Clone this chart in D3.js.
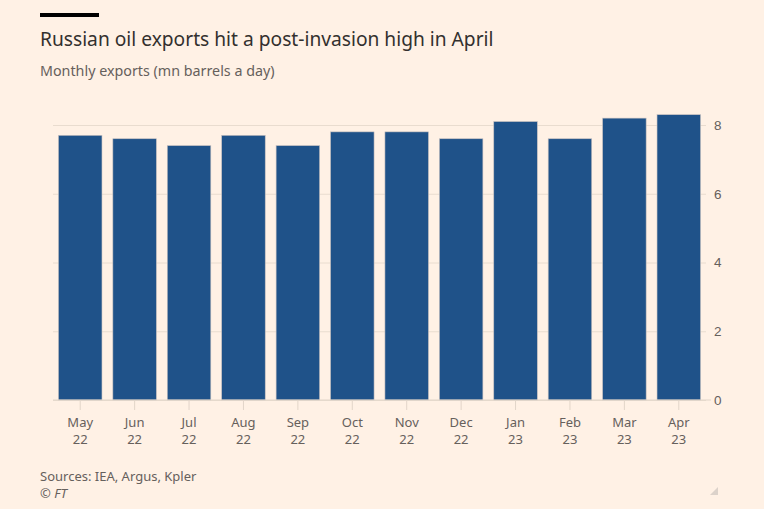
<!DOCTYPE html>
<html>
<head>
<meta charset="utf-8">
<script src="https://cdn.jsdelivr.net/npm/d3@7"></script>
<style>
  body { margin: 0; background: #fff1e5; }
  svg { display: block; font-family: "Noto Sans", Lato, sans-serif; }
</style>
</head>
<body>
<div id="chart"></div>
<script>
// data
var months = ["May", "Jun", "Jul", "Aug", "Sep", "Oct", "Nov", "Dec", "Jan", "Feb", "Mar", "Apr"];
var years = ["22", "22", "22", "22", "22", "22", "22", "22", "23", "23", "23", "23"];
var exports = [7.7, 7.6, 7.4, 7.7, 7.4, 7.8, 7.8, 7.6, 8.1, 7.6, 8.2, 8.3];
var yTicks = [0, 2, 4, 6, 8];

var w = 764;
var h = 509;
var margin = {top: 125, right: 58, bottom: 109, left: 53};

var svg = d3.select("#chart")
            .append("svg")
            .attr("width", w)
            .attr("height", h);

svg.append("rect")
    .attr("width", w)
    .attr("height", h)
    .attr("fill", "#fff1e5");

var x = d3.scaleBand()
            .domain(d3.range(months.length))
            .range([margin.left, w - margin.right])
            .paddingInner(0.2)
            .paddingOuter(0.1);

var y = d3.scaleLinear()
            .domain([0, 8])
            .range([h - margin.bottom, margin.top]);

// header
svg.append("rect")
    .attr("x", 40).attr("y", 13)
    .attr("width", 59).attr("height", 4)
    .attr("fill", "#000");

svg.append("text")
    .attr("x", 40).attr("y", 46)
    .attr("font-size", 19.2)
    .attr("fill", "#33302e")
    .text("Russian oil exports hit a post-invasion high in April");

svg.append("text")
    .attr("x", 40).attr("y", 76)
    .attr("font-size", 14.3)
    .attr("fill", "#66605c")
    .text("Monthly exports (mn barrels a day)");

// gridlines + y labels
var yAxis = svg.append("g")
    .attr("transform", "translate(" + (w - margin.right) + ",0)")
    .call(d3.axisRight(y).tickValues(yTicks).tickSize(-(w - margin.right - margin.left)).tickPadding(8));
yAxis.select(".domain").remove();
yAxis.selectAll(".tick line")
    .attr("stroke", "#e9dccf");
yAxis.selectAll(".tick text")
    .attr("font-size", 13.5)
    .attr("fill", "#66605c");

// bars
svg.selectAll(".bar")
    .data(exports)
    .enter()
    .append("rect")
    .attr("class", "bar")
    .attr("x", function(d, i) { return x(i); })
    .attr("y", function(d) { return y(d); })
    .attr("width", x.bandwidth())
    .attr("height", function(d) { return y(0) - y(d); })
    .attr("fill", "#1f5289")
    .attr("stroke", "#c9c2c0")
    .attr("stroke-width", 0.6);

// baseline
svg.append("line")
    .attr("x1", margin.left).attr("x2", w - margin.right + 5)
    .attr("y1", y(0)).attr("y2", y(0))
    .attr("stroke", "#e2d5c9")
    .attr("stroke-width", 1.2);

// x axis
var xAxis = svg.append("g")
    .attr("transform", "translate(0," + y(0) + ")")
    .call(d3.axisBottom(x).tickSize(10).tickFormat(""));
xAxis.select(".domain").remove();
xAxis.selectAll(".tick line")
    .attr("stroke", "#e2d5c9");

svg.selectAll(".xmon")
    .data(months)
    .enter()
    .append("text")
    .attr("class", "xmon")
    .attr("text-anchor", "middle")
    .attr("font-size", 13)
    .attr("fill", "#66605c")
    .attr("x", function(d, i) { return x(i) + x.bandwidth() / 2; })
    .attr("y", 427)
    .text(function(d) { return d; });

svg.selectAll(".xyr")
    .data(years)
    .enter()
    .append("text")
    .attr("class", "xyr")
    .attr("text-anchor", "middle")
    .attr("font-size", 13)
    .attr("fill", "#66605c")
    .attr("x", function(d, i) { return x(i) + x.bandwidth() / 2; })
    .attr("y", 444)
    .text(function(d) { return d; });

// footer
svg.append("text")
    .attr("x", 40).attr("y", 481)
    .attr("font-size", 13)
    .attr("fill", "#66605c")
    .text("Sources: IEA, Argus, Kpler");

svg.append("text")
    .attr("x", 40).attr("y", 498)
    .attr("font-size", 13)
    .attr("font-style", "italic")
    .attr("fill", "#66605c")
    .text("\u00a9 FT");

// resize handle
svg.append("path")
    .attr("d", "M718,487 L718,495 L710,495 Z")
    .attr("fill", "#dcd2ca");
</script>
</body>
</html>
